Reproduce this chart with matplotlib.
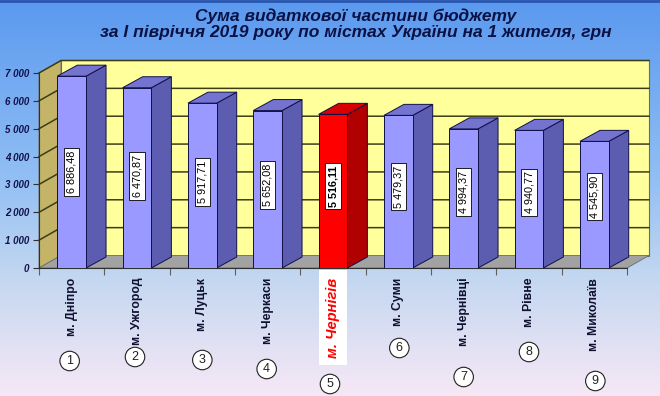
import numpy as np
import matplotlib
matplotlib.use("Agg")
import matplotlib.pyplot as plt
from matplotlib.patches import Polygon
from matplotlib.colors import LinearSegmentedColormap

# ---- data ----
cities = ["м. Дніпро", "м. Ужгород", "м. Луцьк", "м. Черкаси", "м. Чернігів",
          "м. Суми", "м. Чернівці", "м. Рівне", "м. Миколаїв"]
values = [6886.48, 6470.87, 5917.71, 5652.08, 5516.11, 5479.37, 4994.37, 4940.77, 4545.90]
value_labels = ["6 886,48", "6 470,87", "5 917,71", "5 652,08", "5 516,11",
                "5 479,37", "4 994,37", "4 940,77", "4 545,90"]
ranks = ["1", "2", "3", "4", "5", "6", "7", "8", "9"]
yticks = [0, 1000, 2000, 3000, 4000, 5000, 6000, 7000]
ytick_labels = ["0", "1 000", "2 000", "3 000", "4 000", "5 000", "6 000", "7 000"]
highlight = 4
title1 = "Сума видаткової частини бюджету"
title2 = "за І півріччя 2019 року по містах України на 1 жителя, грн"

W, H, DPI = 660, 396, 100
fig = plt.figure(figsize=(W / DPI, H / DPI), dpi=DPI)

# background gradient
bg = fig.add_axes([0, 0, 1, 1], zorder=0)
cmap = LinearSegmentedColormap.from_list(
    "bg", [(0.0, "#5a99ef"), (0.45, "#92bff4"), (0.7, "#c3d7f0"), (1.0, "#f6e8f6")])
grad = np.linspace(0, 1, 256).reshape(-1, 1)
bg.imshow(grad, aspect="auto", cmap=cmap, extent=[0, 1, 0, 1], origin="upper")
bg.axhline(0.998, color="#2a56b0", lw=2)
bg.set_xlim(0, 1); bg.set_ylim(0, 1)
bg.axis("off")

# main axes: front plane
x0, x1 = 39, 627
y0, y1 = 268, 73
ax = fig.add_axes([x0 / W, (H - y0) / H, (x1 - x0) / W, (y0 - y1) / H], zorder=1)
ax.set_facecolor("none")
n = len(values)
ax.set_xlim(-0.5, n - 0.5)
ax.set_ylim(0, 7000)

px_x = (x1 - x0) / n          # px per category unit
px_y = (y0 - y1) / 7000.0     # px per value unit
# depth offsets (walls and bars), in data units
wdx, wdy = 22 / px_x, 12.5 / px_y
bdx, bdy = 20 / px_x, 11 / px_y

L, R = -0.5, n - 0.5
ymax = 7000
# back wall
ax.add_patch(Polygon([(L + wdx, wdy), (R + wdx, wdy), (R + wdx, ymax + wdy), (L + wdx, ymax + wdy)],
                     closed=True, fc="#ffff9c", ec="#6a6a6a", lw=0.8, clip_on=False, zorder=1))
# left wall
ax.add_patch(Polygon([(L, 0), (L + wdx, wdy), (L + wdx, ymax + wdy), (L, ymax)],
                     closed=True, fc="#c4b468", ec="#6a6a6a", lw=0.6, clip_on=False, zorder=1))
# floor
ax.add_patch(Polygon([(L, 0), (R, 0), (R + wdx, wdy), (L + wdx, wdy)],
                     closed=True, fc="#a2a2a2", ec="#6a6a6a", lw=0.6, clip_on=False, zorder=1))
# gridlines
for v in yticks[1:]:
    ax.plot([L, L + wdx, R + wdx], [v, v + wdy, v + wdy], color="#3c3c18", lw=1.1,
            clip_on=False, zorder=2)

# bars
w = 0.44
for i, v in enumerate(values):
    if i == highlight:
        fc, sc, tc = "#ff0000", "#b00000", "#d80000"
    else:
        fc, sc, tc = "#9999ff", "#5c5cb0", "#7474d0"
    xl, xr = i - w / 2, i + w / 2
    ax.add_patch(Polygon([(xr, 0), (xr + bdx, bdy), (xr + bdx, v + bdy), (xr, v)],
                         closed=True, fc=sc, ec="#10104a", lw=0.7, clip_on=False, zorder=3))
    ax.add_patch(Polygon([(xl, v), (xr, v), (xr + bdx, v + bdy), (xl + bdx, v + bdy)],
                         closed=True, fc=tc, ec="#10104a", lw=0.7, clip_on=False, zorder=3))
ax.bar(range(n), values, width=w,
       color=["#ff0000" if i == highlight else "#9999ff" for i in range(n)],
       edgecolor="#10104a", linewidth=0.7, zorder=4)

# value labels
for i, v in enumerate(values):
    ly = v * 0.5 + 0.12 * (ymax - v)
    ax.text(i, ly, value_labels[i], rotation=90, ha="center", va="center",
            fontsize=7.8, family="Liberation Sans",
            fontweight="bold" if i == highlight else "normal", color="black",
            bbox=dict(boxstyle="square,pad=0.25", fc="white", ec="black", lw=0.6), zorder=5)

# axes styling
for s in ["top", "right"]:
    ax.spines[s].set_visible(False)
ax.spines["left"].set_color("#303030")
ax.spines["bottom"].set_color("#303030")
ax.spines["left"].set_linewidth(0.8)
ax.spines["bottom"].set_linewidth(0.8)
ax.spines["left"].set_zorder(6)
ax.set_yticks(yticks)
ax.set_yticklabels(ytick_labels, fontsize=7, fontweight="bold", fontstyle="italic",
                   family="Liberation Sans", color="#10104a")
ax.tick_params(axis="y", length=4, width=0.8, color="#303030", pad=3)

ax.set_xticks(range(n))
ax.set_xticklabels(cities, rotation=90, va="top", ha="center", fontsize=8.8,
                   fontweight="bold", family="Liberation Sans", color="#101030")
ax.set_xticks(np.arange(-0.5, n, 1), minor=True)
ax.tick_params(axis="x", which="major", length=0, pad=7)
ax.tick_params(axis="x", which="minor", length=5, width=0.8, color="#606060")
hl = ax.get_xticklabels()[highlight]
hl.set_color("#ff0000")
hl.set_fontstyle("italic")
hl.set_fontsize(10.5)
hl.set_bbox(dict(boxstyle="square,pad=0.5", fc="white", ec="none"))

# circled rank numbers (offsets in px below axis)
circle_drop = [93, 89, 92, 101, 116, 80, 109, 84, 113]
circle_shift = [-2, -2, 0, -1, -3, 1, 0, 0, 1]
for i, r in enumerate(ranks):
    ax.annotate(r, xy=(i, 0), xytext=(circle_shift[i] * 0.72, -circle_drop[i] * 0.72),
                textcoords="offset points", ha="center", va="center",
                fontsize=9, family="Liberation Sans", color="#202020",
                bbox=dict(boxstyle="circle,pad=0.3", fc="white", ec="#202020", lw=0.8),
                annotation_clip=False, zorder=6)

# titles
fig.text(356 / W, 1 - 16 / H, title1, ha="center", va="center", fontsize=12.5,
         fontweight="bold", fontstyle="italic", family="Liberation Sans", color="#0a1245")
fig.text(356 / W, 1 - 33 / H, title2, ha="center", va="center", fontsize=12.5,
         fontweight="bold", fontstyle="italic", family="Liberation Sans", color="#0a1245")

fig.savefig("out.png", dpi=DPI)
